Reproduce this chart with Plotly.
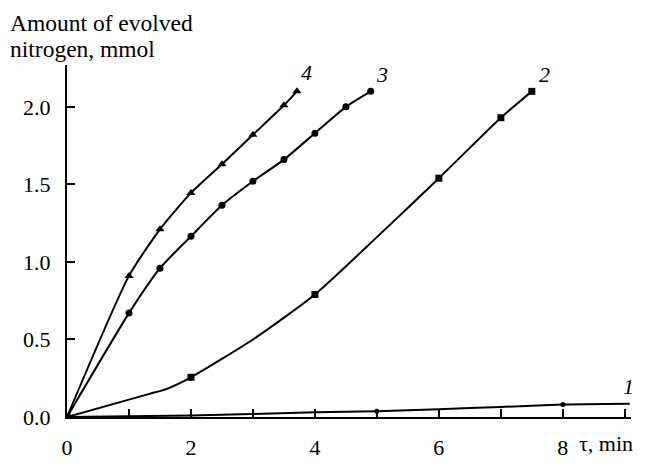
import plotly.graph_objects as go

# Curve 4 (triangles)
x4 = [0, 1, 1.5, 2, 2.5, 3, 3.5, 3.71]
y4 = [0, 0.91, 1.21, 1.445, 1.63, 1.82, 2.01, 2.10]
# Curve 3 (circles)
x3 = [0, 1, 1.5, 2, 2.5, 3, 3.5, 4, 4.5, 4.9]
y3 = [0, 0.67, 0.96, 1.165, 1.365, 1.52, 1.66, 1.83, 2.0, 2.10]
# Curve 2 (squares) – marked points
x2m = [0, 2, 4, 6, 7, 7.5]
y2m = [0, 0.256, 0.79, 1.54, 1.93, 2.10]
# Curve 2 – line trace
x2 = [0, 1.3, 1.6, 2, 3, 4, 5, 6, 7, 7.5]
y2 = [0, 0.146, 0.18, 0.256, 0.50, 0.79, 1.16, 1.54, 1.93, 2.10]
# Curve 1 (small dots)
x1m = [5, 8]
y1m = [0.037, 0.08]
x1 = [0, 2, 4, 5, 6, 7, 8, 9.08]
y1 = [0, 0.01, 0.03, 0.037, 0.05, 0.065, 0.08, 0.085]

curve_labels = ["1", "2", "3", "4"]
label_x = [9.06, 7.71, 5.08, 3.87]
label_y = [0.195, 2.207, 2.207, 2.22]

xticks = [0, 2, 4, 6, 8]
yticks = [0.0, 0.5, 1.0, 1.5, 2.0]

FONT = "Liberation Serif, Times New Roman, serif"
BLACK = "#000000"

# plot area in pixels (for placing free text)
L, R, T, B = 67, 14, 65, 35
PW, PH = 645 - L - R, 472 - T - B

def px_x(p):
    return (p - L) / PW

def px_y(p):
    return (472 - B - p) / PH

fig = go.Figure()

def add_curve(xl, yl, xm, ym, symbol, size):
    fig.add_trace(go.Scatter(x=xl, y=yl, mode="lines",
                             line=dict(color=BLACK, width=2, shape="spline", smoothing=0.6),
                             showlegend=False, hoverinfo="skip"))
    fig.add_trace(go.Scatter(x=xm, y=ym, mode="markers",
                             marker=dict(symbol=symbol, size=size, color=BLACK),
                             showlegend=False))

add_curve(x1, y1, x1m, y1m, "circle", 5)
add_curve(x2, y2, x2m, y2m, "square", 7)
add_curve(x3, y3, x3[1:], y3[1:], "circle", 7)
add_curve(x4, y4, x4[1:], y4[1:], "triangle-up", 8)

for t, lx, ly in zip(curve_labels, label_x, label_y):
    fig.add_annotation(x=lx, y=ly, text=f"<i>{t}</i>", showarrow=False,
                       font=dict(family=FONT, size=22, color=BLACK),
                       xanchor="center", yanchor="middle")

fig.add_annotation(xref="paper", yref="paper", x=px_x(8), y=px_y(21),
                   text="Amount of evolved", showarrow=False,
                   xanchor="left", yanchor="middle",
                   font=dict(family=FONT, size=23.5, color=BLACK))
fig.add_annotation(xref="paper", yref="paper", x=px_x(8), y=px_y(48),
                   text="nitrogen, mmol", showarrow=False,
                   xanchor="left", yanchor="middle",
                   font=dict(family=FONT, size=23.5, color=BLACK))
fig.add_annotation(xref="paper", yref="paper", x=px_x(577), y=px_y(465),
                   text="τ, min", showarrow=False, xanchor="left", yanchor="middle",
                   font=dict(family=FONT, size=22, color=BLACK))

fig.update_layout(
    width=645, height=472,
    margin=dict(l=L, r=R, t=T, b=B),
    plot_bgcolor="white", paper_bgcolor="white",
    font=dict(family=FONT, size=22, color=BLACK),
    showlegend=False,
)
fig.update_xaxes(range=[0, 9.1], tickvals=xticks, ticktext=[str(v) for v in xticks],
                 showgrid=False, zeroline=False, showline=True, linecolor=BLACK, linewidth=2,
                 ticks="inside", ticklen=8, tickwidth=1.5, tickcolor=BLACK,
                 minor=dict(dtick=1, tick0=0, ticks="inside", ticklen=8, tickwidth=1.5, tickcolor=BLACK),
                 ticklabelstandoff=10)
fig.update_yaxes(range=[0, 2.27], tickvals=yticks, ticktext=[f"{v:.1f}" for v in yticks],
                 showgrid=False, zeroline=False, showline=True, linecolor=BLACK, linewidth=2,
                 ticks="inside", ticklen=8, tickwidth=1.5, tickcolor=BLACK,
                 ticklabelstandoff=10)

fig.write_html("out.html", config={"displayModeBar": False},
               post_script="document.body.style.margin='0';document.body.style.overflow='hidden';")
